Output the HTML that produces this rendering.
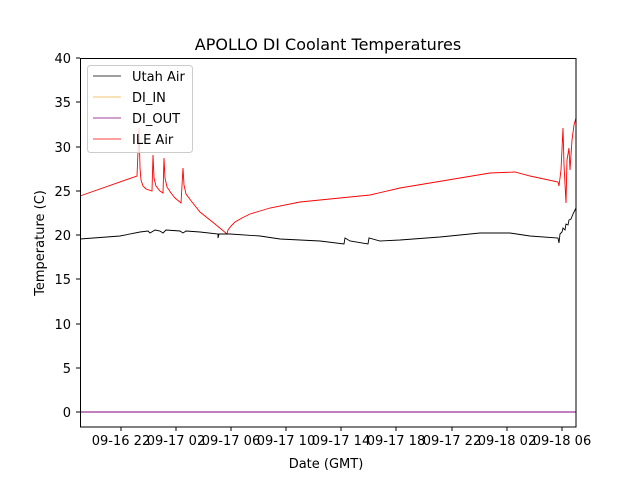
<!DOCTYPE html>
<html><head><style>body{margin:0;background:#fff}svg{display:block}text{font-family:"DejaVu Sans","Liberation Sans",sans-serif;font-size:13px;fill:#000}</style></head>
<body>
<svg width="640" height="480" viewBox="0 0 640 480">
<rect width="640" height="480" fill="#fff"/>
<text x="328" y="50" text-anchor="middle" style="font-size:16px">APOLLO DI Coolant Temperatures</text>
<line x1="80" y1="412" x2="576" y2="412" stroke="#800080" stroke-width="1"/>
<polyline fill="none" stroke="#ff0000" stroke-width="0.9" points="80,196 137,176 139,128 140,168 141,180 143,186 146,189 152,191 153,155 154,178 156,186 160,191 163,193 164,158 165,178 167,187 171,193 175,198 181,203 183,168 184,185 186,194 192,202 200,212 215,224 227,234 228,230 231,226 235,222 242,218 250,214 260,211 270,208 300,202 340,198 370,195 400,188 430,183 460,178 490,173 515,172 530,176 558,182 559,186 561,170 563,128 564,165 566,203 567,160 569,148 570,170 572,140 574,125 576,118"/>
<polyline fill="none" stroke="#000" stroke-width="0.9" points="80,239 120,236 140,232 148,231 150,233 155,230 160,231 163,233 166,230 180,231 183,233 186,231 200,232 218,234 218,238 219,234 230,234 260,236 280,239 320,241 344,244 345,238 350,241 368,244 369,238 380,241 400,240 440,237 480,233 510,233 530,236 558,238 559,243 560,234 562,232 563,228 565,230 566,224 568,225 569,220 571,219 573,214 576,208"/>
<rect x="80.5" y="58.5" width="495.5" height="368.5" fill="none" stroke="#000" stroke-width="1"/>
<g stroke="#000">
<line x1="76" y1="412" x2="80" y2="412"/><line x1="76" y1="368" x2="80" y2="368"/><line x1="76" y1="324" x2="80" y2="324"/><line x1="76" y1="279" x2="80" y2="279"/><line x1="76" y1="235" x2="80" y2="235"/><line x1="76" y1="191" x2="80" y2="191"/><line x1="76" y1="147" x2="80" y2="147"/><line x1="76" y1="102" x2="80" y2="102"/><line x1="76" y1="58" x2="80" y2="58"/>
<line x1="121" y1="427" x2="121" y2="431"/><line x1="176" y1="427" x2="176" y2="431"/><line x1="231" y1="427" x2="231" y2="431"/><line x1="286" y1="427" x2="286" y2="431"/><line x1="341" y1="427" x2="341" y2="431"/><line x1="396" y1="427" x2="396" y2="431"/><line x1="452" y1="427" x2="452" y2="431"/><line x1="507" y1="427" x2="507" y2="431"/><line x1="562" y1="427" x2="562" y2="431"/>
</g>
<g text-anchor="end">
<text x="71" y="417">0</text><text x="71" y="373">5</text><text x="71" y="329">10</text><text x="71" y="284">15</text><text x="71" y="240">20</text><text x="71" y="196">25</text><text x="71" y="152">30</text><text x="71" y="107">35</text><text x="71" y="63">40</text>
</g>
<g text-anchor="middle">
<text x="121" y="445">09-16 22</text><text x="176" y="445">09-17 02</text><text x="231" y="445">09-17 06</text><text x="286" y="445">09-17 10</text><text x="341" y="445">09-17 14</text><text x="396" y="445">09-17 18</text><text x="452" y="445">09-17 22</text><text x="507" y="445">09-18 02</text><text x="562" y="445">09-18 06</text>
<text x="326" y="468">Date (GMT)</text>
<text transform="translate(44,243) rotate(-90)">Temperature (C)</text>
</g>
<rect x="87.5" y="65.5" width="105" height="87" rx="3" fill="#fff" fill-opacity="0.8" stroke="#ccc"/>
<line x1="93" y1="76" x2="121" y2="76" stroke="#000" stroke-width="0.8"/>
<line x1="93" y1="97" x2="121" y2="97" stroke="#f0b040" stroke-width="0.8"/>
<line x1="93" y1="118" x2="121" y2="118" stroke="#800080" stroke-width="0.8"/>
<line x1="93" y1="139" x2="121" y2="139" stroke="#ff0000" stroke-width="0.8"/>
<text x="132" y="81">Utah Air</text><text x="132" y="102">DI_IN</text><text x="132" y="123">DI_OUT</text><text x="132" y="144">ILE Air</text>
</svg>
</body></html>
